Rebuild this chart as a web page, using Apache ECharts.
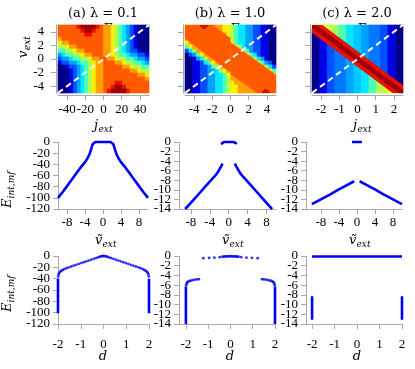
<!DOCTYPE html>
<html>
<head>
<meta charset="utf-8">
<script src="https://cdn.jsdelivr.net/npm/echarts@6.0.0/dist/echarts.min.js"></script>
<style>
  html, body { margin: 0; padding: 0; background: #fff; }
  #chart { width: 415px; height: 369px; }
</style>
</head>
<body>
<div id="chart"></div>
<script>
// heatmap levels, one char per cell, rows from v=5 (top) down to v=-5
var heatA = [
  "99999ABBBBA9887654321000",
  "999999ABBA99887654321000",
  "9999999AA999887654321000",
  "899999999999887654321000",
  "788999999999887654321000",
  "667889999999887654321000",
  "556678899999887654322100",
  "345566788999887655433221",
  "233455667889988766554332",
  "122334556788999887665543",
  "001223456788999998876655",
  "000123456788999999988766",
  "000123456788999999999887",
  "000123456788999999999998",
  "000123456788999AA9999999",
  "00012345678899ABBA999999",
  "0001234567889ABBBBA99999"
];
// panel b and c: background levels, the bands are polygons below
var heatB = [
  "888888888877654433221100",
  "888888888877654433221100",
  "888888888887654433221100",
  "888888888888654433221100",
  "788888888888754433221100",
  "578888888888876433221100",
  "246888888888888653221100",
  "023578888888888875421100",
  "001346888888888888643100",
  "001124578888888888875320",
  "001122356888888888888642",
  "001122334678888888888875",
  "001122334457888888888887",
  "001122334456888888888888",
  "001122334456788888888888",
  "001122334456778888888888",
  "001122334456778888888888"
];
var heatC = [
  "777ee665544dd33ccc221100",
  "007ee665544dd33ccc221100",
  "001ee665544dd33ccc221100",
  "0011e665544dd33ccc221100",
  "00112265544dd33ccc221100",
  "001122c5544dd33ccc221100",
  "001122ccc44dd33ccc221100",
  "001122ccc34dd33ccc221100",
  "001122ccc33dd33ccc221100",
  "001122ccc33dd33ccc221100",
  "001122ccc33dd43ccc221100",
  "001122ccc33dd445cc221100",
  "001122ccc33dd4455c221100",
  "001122ccc33dd44556621100",
  "001122ccc33dd445566e1100",
  "001122ccc33dd445566ee100",
  "001122ccc33dd445566ee770"
];
var levelColors = {
  '0': '#00008a', '1': '#0000e8', '2': '#0050ff', 'c': '#0078ff', '3': '#00a0ff',
  'd': '#00c8ff', '4': '#00e8ff', '5': '#50ffb0', '6': '#a8ff50', 'e': '#d8ff28',
  '7': '#fbf000', '8': '#ffa000', '9': '#ff5a00', 'A': '#e81000', 'B': '#a00000'
};
// band outlines in (j, v)
var bandBLeftJ = [-5, -1.9, 0, 0, -5];
var bandBLeftV = [5, 5, 3.0, -2.0, 3.0];
var bandBRightJ = [0, 5, 5, 2.9, 0];
var bandBRightV = [2.5, -2.3, -5, -5, -2.2];
var spotBTopJ = [-3.4, -2.4, -2.7, -3.1];
var spotBTopV = [5, 5, 4.5, 4.4];
var spotBBotJ = [3.4, 4.4, 4.1, 3.7];
var spotBBotV = [-5, -5, -4.5, -4.4];
var bandCJ = [-2.5, -1.925, 2.5, 2.5, 1.925, -2.5];
var bandCV = [5, 5, -3.85, -5, -5, 3.85];
var coreCJ = [-2.5, -2.275, 2.5, 2.5, 2.275, -2.5];
var coreCV = [5, 5, -4.55, -5, -5, 4.55];

var lambdas = ['(a) λ = 0.1', '(b) λ = 1.0', '(c) λ = 2.0'];
var jRangeA = [-50, 50], jRangeB = [-5, 5], jRangeC = [-2.5, 2.5];
var jTicksA = [-40, -20, 0, 20, 40];
var jTicksB = [-4, -2, 0, 2, 4];
var jTicksC = [-2, -1, 0, 1, 2];
var vTicks = [-4, -2, 0, 2, 4];
var diagJA = [-50, 50], diagJB = [-5, 5], diagJC = [-2.5, 2.5];
var diagV = [-5, 5];
var eTicksBig = [0, -20, -40, -60, -80, -100, -120];
var eTicksSmall = [0, -2, -4, -6, -8, -10, -12, -14];

// middle row: E vs v_ext
var vTicksMid = [-8, -4, 0, 4, 8];
var vMidA = [-10, -9, -8, -7, -6, -5, -4, -3.5, -3, -2.6, -2.3, -2.0, -1.7, -1, 0, 1, 1.7, 2.0, 2.3, 2.6, 3, 3.5, 4, 5, 6, 7, 8, 9, 10];
var eMidA = [-100, -90, -79, -68, -57, -46, -36, -30, -22, -12, -4, -0.6, 0, 0, 0, 0, 0, -0.6, -4, -12, -22, -30, -36, -46, -57, -68, -79, -90, -100];
var vMidBTop = [-1.6, -1.5, -1.4, -1, 0, 1, 1.4, 1.5, 1.6];
var eMidBTop = [-0.45, -0.2, -0.05, 0, 0, 0, -0.05, -0.2, -0.45];
var vMidBLeft = [-9.2, -9, -8, -7, -6, -5, -4, -3, -2.5, -2, -1.6, -1.3];
var eMidBLeft = [-14, -13.8, -12.7, -11.6, -10.5, -9.4, -8.3, -7.2, -6.6, -5.8, -5.1, -4.5];
var vMidBRight = [1.3, 1.6, 2, 2.5, 3, 4, 5, 6, 7, 8, 9, 9.2];
var eMidBRight = [-4.5, -5.1, -5.8, -6.6, -7.2, -8.3, -9.4, -10.5, -11.6, -12.7, -13.8, -14];
var vMidCTop = [-1.1, 1.1];
var eMidCTop = [0, 0];
var vMidCLeft = [-10, -8, -6, -4, -2, -0.6];
var eMidCLeft = [-13, -12, -11, -9.9, -8.9, -8.2];
var vMidCRight = [0.6, 2, 4, 6, 8, 10];
var eMidCRight = [-8.2, -8.9, -9.9, -11, -12, -13];

// bottom row: E vs d
var dWallL = [-2, -2], dWallR = [2, 2];
var eWallA = [-101, -40];
var dDotsA = [-1.99, -1.97, -1.94, -1.9, -1.85, -1.79, -1.72, -1.63, -1.53, -1.42, -1.31, -1.2, -1.09, -0.98, -0.87, -0.76, -0.65, -0.54, -0.43, -0.33, -0.24, -0.16, -0.1, -0.05, 0,
  0.05, 0.1, 0.16, 0.24, 0.33, 0.43, 0.54, 0.65, 0.76, 0.87, 0.98, 1.09, 1.2, 1.31, 1.42, 1.53, 1.63, 1.72, 1.79, 1.85, 1.9, 1.94, 1.97, 1.99];
var eDotsA = [-36, -32, -29.5, -27.5, -26, -24.5, -23, -21.5, -20, -18.5, -17, -15.5, -14, -12.5, -11, -9.5, -8, -6.5, -5, -3.6, -2.4, -1.3, -0.6, -0.2, 0,
  -0.2, -0.6, -1.3, -2.4, -3.6, -5, -6.5, -8, -9.5, -11, -12.5, -14, -15.5, -17, -18.5, -20, -21.5, -23, -24.5, -26, -27.5, -29.5, -32, -36];
var eWallB = [-14, -6.3];
var dDotsB = [-1.99, -1.97, -1.94, -1.9, -1.84, -1.77, -1.69, -1.6, -1.5, -1.42,
  -1.22, -0.96, -0.72, -0.48, -0.36, -0.3, -0.24, -0.18, -0.12, -0.06, 0, 0.06, 0.12, 0.18, 0.24, 0.3, 0.36, 0.48, 0.72, 0.96, 1.22,
  1.42, 1.5, 1.6, 1.69, 1.77, 1.84, 1.9, 1.94, 1.97, 1.99];
var eDotsB = [-6, -5.7, -5.45, -5.3, -5.15, -5.05, -4.95, -4.88, -4.82, -4.78,
  -0.45, -0.4, -0.35, -0.25, -0.15, -0.12, -0.1, -0.08, -0.06, -0.05, -0.05, -0.05, -0.06, -0.08, -0.1, -0.12, -0.15, -0.25, -0.35, -0.4, -0.45,
  -4.78, -4.82, -4.88, -4.95, -5.05, -5.15, -5.3, -5.45, -5.7, -6];
var eWallC = [-13.1, -8.3];
var dFlatC = [-2, 2], eFlatC = [-0.1, -0.1];

var chart = echarts.init(document.getElementById('chart'));
var gray = '#a8a8a8';
var blue = '#0000ff';
var grid = [], xAxis = [], yAxis = [], series = [];

function zip(xs, ys) {
  return xs.map(function (x, i) { return [x, ys[i]]; });
}

function valueAxis(gi, min, max, o) {
  var ax = {
    gridIndex: gi, type: 'value', min: min, max: max,
    axisLine: { show: true, onZero: false, lineStyle: { color: gray, width: 1 } },
    axisTick: { show: true, length: 5, lineStyle: { color: gray } },
    axisLabel: { color: '#000', fontFamily: 'Liberation Serif', fontSize: 13, margin: o.margin || 7,
      showMinLabel: true, showMaxLabel: true, hideOverlap: false },
    splitLine: { show: false }
  };
  if (o.ticks) { ax.axisTick.customValues = o.ticks; ax.axisLabel.customValues = o.labels || o.ticks; }
  if (o.interval) ax.interval = o.interval;
  if (o.offset) ax.offset = o.offset;
  if (o.noLabel) ax.axisLabel.show = false;
  return ax;
}

//上排 热力图
function heatPanel(rows, left, jRange, jTicks, diagJ, showV, shapes) {
  var gi = grid.length;
  grid.push({ left: left, top: 25, width: 91, height: 68 });
  var xv = xAxis.length;
  xAxis.push(valueAxis(gi, jRange[0], jRange[1], { ticks: jTicks, offset: 2, margin: 8 }));
  var xc = xAxis.length;
  xAxis.push({ gridIndex: gi, type: 'category', position: 'top', show: false,
    data: rows[0].split('').map(function (_, i) { return 'c' + i; }) });
  var yv = yAxis.length;
  yAxis.push(valueAxis(gi, -5, 5, { ticks: vTicks, offset: 2, margin: 12, noLabel: !showV }));
  var yc = yAxis.length;
  yAxis.push({ gridIndex: gi, type: 'category', position: 'right', show: false, inverse: true,
    data: rows.map(function (_, i) { return 'r' + i; }) });

  var cells = [];
  rows.forEach(function (row, r) {
    for (var c = 0; c < row.length; c++) cells.push([c, r]);
  });
  series.push({
    type: 'custom', xAxisIndex: xc, yAxisIndex: yc, data: cells, silent: true,
    renderItem: function (params, api) {
      var c = api.value(0), r = api.value(1);
      var p = api.coord([c, r]);
      var s = api.size([1, 1]);
      return {
        type: 'rect',
        shape: { x: p[0] - s[0] / 2 - 0.3, y: p[1] - s[1] / 2 - 0.3, width: s[0] + 0.6, height: s[1] + 0.6 },
        style: { fill: levelColors[rows[r].charAt(c)] }
      };
    }
  });
  // filled bands
  (shapes || []).forEach(function (sh) {
    series.push({
      type: 'custom', xAxisIndex: xv, yAxisIndex: yv, data: [0], silent: true, z: 3,
      renderItem: function (params, api) {
        var pts = sh.j.map(function (j, i) { return api.coord([j, sh.v[i]]); });
        return { type: 'polygon', shape: { points: pts }, style: { fill: sh.color } };
      }
    });
  });
  series.push({
    type: 'line', xAxisIndex: xv, yAxisIndex: yv, data: zip(diagJ, diagV),
    symbol: 'none', silent: true, z: 5,
    lineStyle: { color: '#fff', width: 2, type: [6, 4] }
  });
}

//中下排 曲线
function curvePanel(box, xRange, xOpts, eTicks, lines, dots) {
  var gi = grid.length;
  grid.push(box);
  var xi = xAxis.length;
  xAxis.push(valueAxis(gi, xRange[0], xRange[1], xOpts));
  var yMin = eTicks[eTicks.length - 1], yMax = eTicks[0];
  var even = eTicks.filter(function (_, i) { return i % 2 === 0; });
  var odd = eTicks.filter(function (_, i) { return i % 2 === 1; });
  var yi = yAxis.length;
  yAxis.push(valueAxis(gi, yMin, yMax, { ticks: eTicks, labels: even, margin: 8 }));
  // second label-only axis so neighbouring labels are not dropped
  var y2 = valueAxis(gi, yMin, yMax, { ticks: odd, margin: 8 });
  y2.position = 'left';
  y2.axisLine.show = false;
  y2.axisTick.show = false;
  yAxis.push(y2);
  lines.forEach(function (pts) {
    series.push({
      type: 'line', xAxisIndex: xi, yAxisIndex: yi, data: pts, clip: false,
      symbol: 'none', silent: true, lineStyle: { color: blue, width: 2.6 }
    });
  });
  if (dots) {
    series.push({
      type: 'scatter', xAxisIndex: xi, yAxisIndex: yi, data: dots, clip: false,
      symbol: 'circle', symbolSize: 2.8, silent: true, itemStyle: { color: blue }
    });
  }
}

heatPanel(heatA, 58, jRangeA, jTicksA, diagJA, true);
heatPanel(heatB, 185, jRangeB, jTicksB, diagJB, false, [
  { j: bandBLeftJ, v: bandBLeftV, color: levelColors['9'] },
  { j: bandBRightJ, v: bandBRightV, color: levelColors['9'] },
  { j: spotBTopJ, v: spotBTopV, color: '#d01000' },
  { j: spotBBotJ, v: spotBBotV, color: '#d01000' }
]);
heatPanel(heatC, 312, jRangeC, jTicksC, diagJC, false, [
  { j: bandCJ, v: bandCV, color: levelColors['A'] },
  { j: coreCJ, v: coreCV, color: levelColors['B'] }
]);

curvePanel({ left: 58, top: 142, width: 90, height: 67 }, [-10, 10], { ticks: vTicksMid, margin: 7 },
  eTicksBig, [zip(vMidA, eMidA)]);
curvePanel({ left: 179, top: 142, width: 97, height: 67 }, [-10.5, 10], { ticks: vTicksMid, margin: 7 },
  eTicksSmall, [zip(vMidBTop, eMidBTop), zip(vMidBLeft, eMidBLeft), zip(vMidBRight, eMidBRight)]);
curvePanel({ left: 306, top: 142, width: 96, height: 67 }, [-11.3, 10], { ticks: vTicksMid, margin: 7 },
  eTicksSmall, [zip(vMidCTop, eMidCTop), zip(vMidCLeft, eMidCLeft), zip(vMidCRight, eMidCRight)]);

curvePanel({ left: 58, top: 256, width: 91, height: 68 }, [-2, 2], { ticks: jTicksC, margin: 14 },
  eTicksBig, [zip(dWallL, eWallA), zip(dWallR, eWallA)], zip(dDotsA, eDotsA));
curvePanel({ left: 179, top: 256, width: 96, height: 68 }, [-2.31, 2], { ticks: jTicksC, margin: 14 },
  eTicksSmall, [zip(dWallL, eWallB), zip(dWallR, eWallB)], zip(dDotsB, eDotsB));
curvePanel({ left: 306, top: 256, width: 96, height: 68 }, [-2.27, 2], { ticks: jTicksC, margin: 14 },
  eTicksSmall, [zip(dFlatC, eFlatC), zip(dWallL, eWallC), zip(dWallR, eWallC)]);

// math style labels
function mathLabel(x, y, base, sub, baseW, rot) {
  var kids = [{
    type: 'text', x: 0, y: 0,
    style: { text: base, font: 'italic 13px "DejaVu Serif"', fill: '#000', align: 'left', verticalAlign: 'middle' }
  }];
  if (sub) {
    kids.push({
      type: 'text', x: baseW, y: 4,
      style: { text: sub, font: 'italic 9px "DejaVu Serif"', fill: '#000', align: 'left', verticalAlign: 'middle' }
    });
  }
  return { type: 'group', x: x, y: y, rotation: rot || 0, children: kids, silent: true };
}

var graphic = [];
[103, 230, 357].forEach(function (cx, i) {
  graphic.push({ type: 'text', x: cx, y: 14, silent: true,
    style: { text: lambdas[i], font: '13px "DejaVu Serif"', fill: '#000', align: 'center', verticalAlign: 'middle' } });
  graphic.push(mathLabel(cx, 30, 'E', 'int,mf', 9.5));
  graphic.push(mathLabel(cx - 8, 241, 'ṽ', 'ext', 7.5));
  graphic.push({ type: 'text', x: cx, y: 357, silent: true,
    style: { text: 'd', font: 'italic 13px "DejaVu Serif"', fill: '#000', align: 'center', verticalAlign: 'middle' } });
});
graphic.push(mathLabel(94, 126, 'j', 'ext', 4.5));
graphic.push(mathLabel(353, 126, 'j', 'ext', 4.5));
graphic.push(mathLabel(24, 58, 'v', 'ext', 7.8, Math.PI / 2));
graphic.push(mathLabel(8, 208, 'E', 'int,mf', 9.5, Math.PI / 2));
graphic.push(mathLabel(8, 312, 'E', 'int,mf', 9.5, Math.PI / 2));

chart.setOption({
  animation: false,
  backgroundColor: '#fff',
  grid: grid,
  xAxis: xAxis,
  yAxis: yAxis,
  series: series,
  graphic: graphic
});
</script>
</body>
</html>
